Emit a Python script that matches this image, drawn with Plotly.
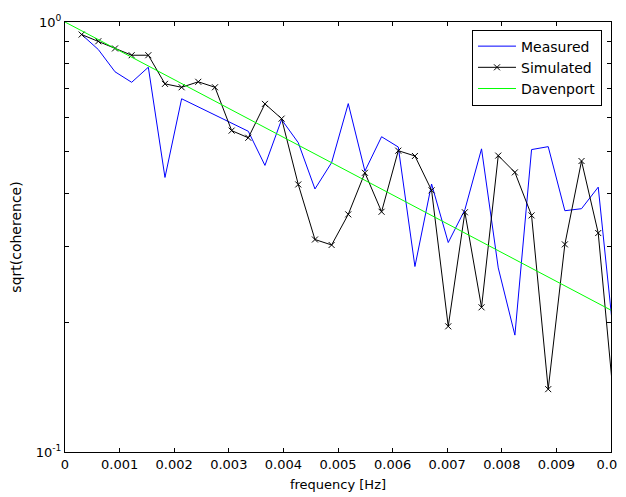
import plotly.graph_objects as go

freq = [0.000305, 0.000610, 0.000916, 0.001221, 0.001526, 0.001831, 0.002136,
        0.002441, 0.002747, 0.003052, 0.003357, 0.003662, 0.003967, 0.004272,
        0.004578, 0.004883, 0.005188, 0.005493, 0.005798, 0.006104, 0.006409,
        0.006714, 0.007019, 0.007324, 0.007629, 0.007935, 0.008240, 0.008545,
        0.008850, 0.009155, 0.009460, 0.009766, 0.010071]

measured = [0.935, 0.863, 0.766, 0.724, 0.785, 0.435, 0.663, 0.635, 0.607, 0.582,
            0.557, 0.464, 0.593, 0.524, 0.409, 0.471, 0.646, 0.450, 0.541, 0.512,
            0.270, 0.420, 0.307, 0.366, 0.507, 0.268, 0.187, 0.505, 0.513, 0.364,
            0.368, 0.413, 0.174]

simulated = [0.935, 0.902, 0.868, 0.837, 0.837, 0.718, 0.705, 0.726, 0.705, 0.559,
             0.538, 0.645, 0.596, 0.419, 0.312, 0.303, 0.357, 0.446, 0.362, 0.502,
             0.488, 0.406, 0.196, 0.361, 0.217, 0.489, 0.447, 0.355, 0.140, 0.304,
             0.475, 0.323, 0.1235]

davenport_freq = [0.0, 0.01]
davenport = [1.0, 0.2137]

x_ticks = [0, 0.001, 0.002, 0.003, 0.004, 0.005, 0.006, 0.007, 0.008, 0.009, 0.01]
x_tick_labels = ["0", "0.001", "0.002", "0.003", "0.004", "0.005", "0.006",
                 "0.007", "0.008", "0.009", "0.01"]
y_ticks = [0.1, 1.0]
y_tick_labels = ["10<sup>-1</sup>", "10<sup>0</sup>"]
y_minor = [0.2, 0.3, 0.4, 0.5, 0.6, 0.7, 0.8, 0.9]

FONT = "DejaVu Sans"

fig = go.Figure()
fig.add_trace(go.Scatter(x=freq, y=measured, mode="lines", name="Measured",
                         line=dict(color="#0000FF", width=1)))
fig.add_trace(go.Scatter(x=freq, y=simulated, mode="lines+markers", name="Simulated",
                         line=dict(color="#000000", width=1),
                         marker=dict(symbol="x-thin", size=6, color="#000000",
                                     line=dict(color="#000000", width=1))))
fig.add_trace(go.Scatter(x=davenport_freq, y=davenport, mode="lines", name="Davenport",
                         line=dict(color="#00FF00", width=1)))

# the page body adds an 8px margin, so the figure is sized to fit the remaining window
fig.update_layout(
    width=618, height=489,
    margin=dict(l=57, r=15, t=14, b=45, autoexpand=False),
    paper_bgcolor="white", plot_bgcolor="white",
    font=dict(family=FONT, size=13, color="black"),
    showlegend=True,
    legend=dict(x=0.9835, y=0.9825, xanchor="right", yanchor="top",
                bgcolor="white", bordercolor="black", borderwidth=1,
                font=dict(family=FONT, size=14, color="black"),
                itemwidth=38, tracegroupgap=0),
)
fig.update_xaxes(
    range=[0, 0.01], tickvals=x_ticks, ticktext=x_tick_labels,
    ticks="inside", ticklen=4, tickcolor="black", tickwidth=1,
    showline=True, linecolor="black", linewidth=1, mirror="ticks",
    showgrid=False, zeroline=False, automargin=False,
    title=dict(text="frequency [Hz]", font=dict(family=FONT, size=13), standoff=9),
    tickfont=dict(family=FONT, size=13),
)
fig.update_yaxes(
    type="log", range=[-1, 0], tickvals=y_ticks, ticktext=y_tick_labels,
    ticks="inside", ticklen=4, tickcolor="black", tickwidth=1,
    minor=dict(tickvals=y_minor, ticks="inside", ticklen=4, tickcolor="black", showgrid=False),
    showline=True, linecolor="black", linewidth=1, mirror="ticks",
    showgrid=False, zeroline=False, automargin=False,
    title=dict(text="sqrt(coherence)", font=dict(family=FONT, size=14), standoff=11),
    tickfont=dict(family=FONT, size=13),
)

fig.write_html("out.html")
